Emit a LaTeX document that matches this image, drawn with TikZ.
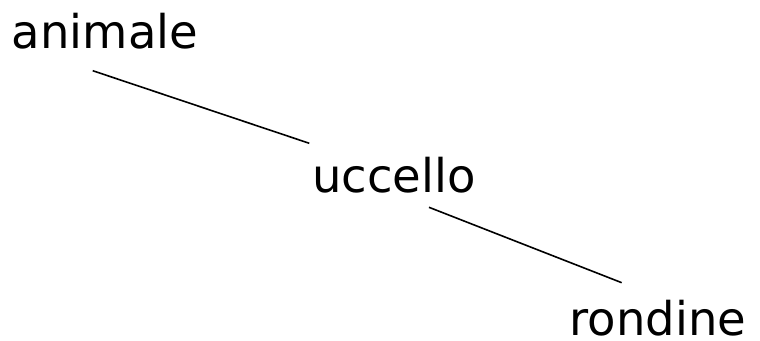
\documentclass[tikz,border=0pt]{standalone}
\usepackage{fontspec}
\setmainfont{DejaVu Sans}
\usetikzlibrary{calc}
\begin{document}
\begin{tikzpicture}[x=1pt,y=1pt,
  term/.style={inner sep=0pt,anchor=base,font=\fontsize{46.5}{52}\selectfont},
  link/.style={line width=1.6pt,black}]
\useasboundingbox (0,0) rectangle (760,340);
% hierarchy terms
\node[term] (animale) at (105,291.5) {animale};
\node[term] (uccello) at (394,147.3) {uccello};
\node[term] (rondine) at (658,4.5)   {rondine};
% end points of the links, just below/above each term
\coordinate (a-out) at ($(animale.base)+(-12.3,-22.2)$);
\coordinate (u-in)  at ($(uccello.base)+(-84.7,49.4)$);
\coordinate (u-out) at ($(uccello.base)+(35,-14.6)$);
\coordinate (r-in)  at ($(rondine.base)+(-36.3,52.8)$);
\draw[link] (a-out) -- (u-in);
\draw[link] (u-out) -- (r-in);
\end{tikzpicture}
\end{document}
